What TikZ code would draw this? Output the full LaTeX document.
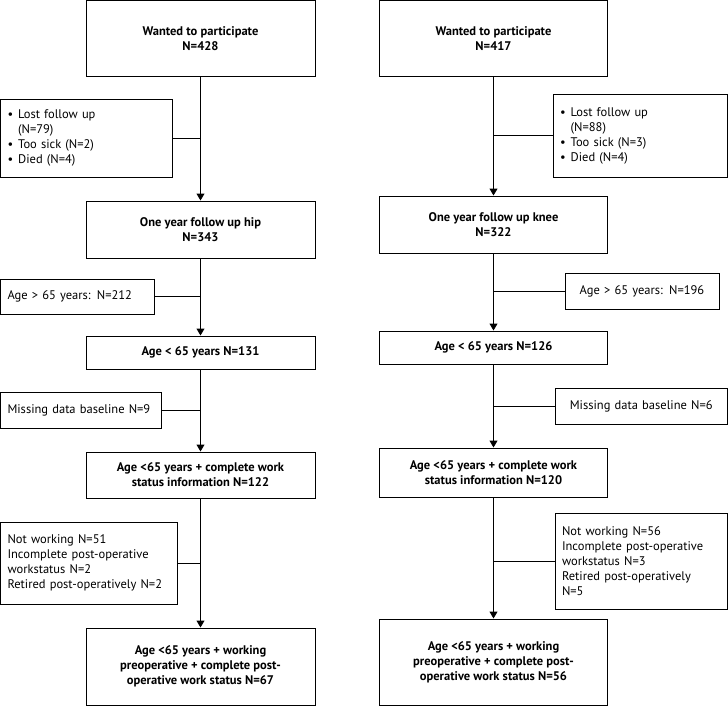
\documentclass[tikz,border=0pt]{standalone}
\usepackage{fontspec}
\setmainfont{PT Sans}
\usetikzlibrary{arrows.meta}
\begin{document}
\begin{tikzpicture}[x=1pt,y=-1pt,
 box/.style={draw, line width=1pt, inner sep=0pt, font=\fontsize{12.5}{15}\selectfont},
 mainbox/.style={box, font=\fontsize{12.5}{15}\selectfont\bfseries, align=center},
 sidebox/.style={box, align=left},
 arr/.style={line width=1pt, -{Triangle[width=8pt,length=7pt]}},
 br/.style={line width=1pt}]
\useasboundingbox (0,0) rectangle (728,706);
% left column
\node[mainbox, minimum width=229pt, minimum height=76.5pt] (a1) at (200.5,38.75) {Wanted to participate\\N=428};
\node[sidebox, minimum width=171.5pt, minimum height=77pt, text width=157.5pt] (l1) at (86.25,138.5)
 {\begin{tabular}{@{}l@{\hspace{5pt}}l@{}}\textbullet & Lost follow up\\ & (N=79)\\ \textbullet & Too sick (N=2)\\ \textbullet & Died (N=4)\end{tabular}};
\node[mainbox, minimum width=229pt, minimum height=57pt] (a2) at (200.5,229.5) {One year follow up hip\\N=343};
\node[sidebox, minimum width=153.5pt, minimum height=35pt, text width=139.5pt] (l2) at (77.25,296.5) {Age > 65 years: N=212};
\node[mainbox, minimum width=229pt, minimum height=33pt] (a3) at (200.5,352.5) {Age < 65 years N=131};
\node[sidebox, minimum width=160.5pt, minimum height=36pt, text width=146.5pt] (l3) at (80.75,410) {Missing data baseline N=9};
\node[mainbox, minimum width=229pt, minimum height=46pt] (a4) at (200.5,475) {Age <65 years + complete work\\status information N=122};
\node[sidebox, minimum width=176.5pt, minimum height=82pt, text width=162.5pt] (l4) at (88.75,563) {Not working N=51\\Incomplete post-operative\\workstatus N=2\\Retired post-operatively N=2};
\node[mainbox, minimum width=229pt, minimum height=77.5pt] (a5) at (200.5,666.75) {Age <65 years + working\\preoperative + complete post-\\operative work status N=67};
% right column
\node[mainbox, minimum width=228pt, minimum height=76.5pt] (b1) at (493.5,38.75) {Wanted to participate\\N=417};
\node[sidebox, minimum width=174.5pt, minimum height=82pt, text width=160.5pt] (r1) at (640.25,136)
 {\begin{tabular}{@{}l@{\hspace{5pt}}l@{}}\textbullet & Lost follow up\\ & (N=88)\\ \textbullet & Too sick (N=3)\\ \textbullet & Died (N=4)\end{tabular}};
\node[mainbox, minimum width=228pt, minimum height=57pt] (b2) at (493.5,224.5) {One year follow up knee\\N=322};
\node[sidebox, minimum width=154pt, minimum height=36pt, text width=140pt, align=center] (r2) at (642,291) {Age > 65 years: N=196};
\node[mainbox, minimum width=228pt, minimum height=33pt] (b3) at (493.5,347.5) {Age < 65 years N=126};
\node[sidebox, minimum width=172.5pt, minimum height=36pt, text width=158.5pt, align=center] (r3) at (641.25,406) {Missing data baseline N=6};
\node[mainbox, minimum width=228pt, minimum height=49pt] (b4) at (493.5,472.5) {Age <65 years + complete work\\status information N=120};
\node[sidebox, minimum width=172.5pt, minimum height=96pt, text width=158.5pt] (r4) at (641.25,561) {Not working N=56\\Incomplete post-operative\\workstatus N=3\\Retired post-operatively\\N=5};
\node[mainbox, minimum width=228pt, minimum height=86.5pt] (b5) at (493.5,662.25) {Age <65 years + working\\preoperative + complete post-\\operative work status N=56};
% connectors
\foreach \u/\v in {a1/a2,a2/a3,a3/a4,a4/a5,b1/b2,b2/b3,b3/b4,b4/b5}
  \draw[arr] (\u.south) -- (\v.north);
\foreach \s/\m in {l1/a1,l2/a2,l3/a3,l4/a4}
  \draw[br] (\s.east) -- (\s.east -| \m.south);
\foreach \s/\m in {r1/b1,r2/b2,r3/b3,r4/b4}
  \draw[br] (\s.west) -- (\s.west -| \m.south);
\end{tikzpicture}
\end{document}
